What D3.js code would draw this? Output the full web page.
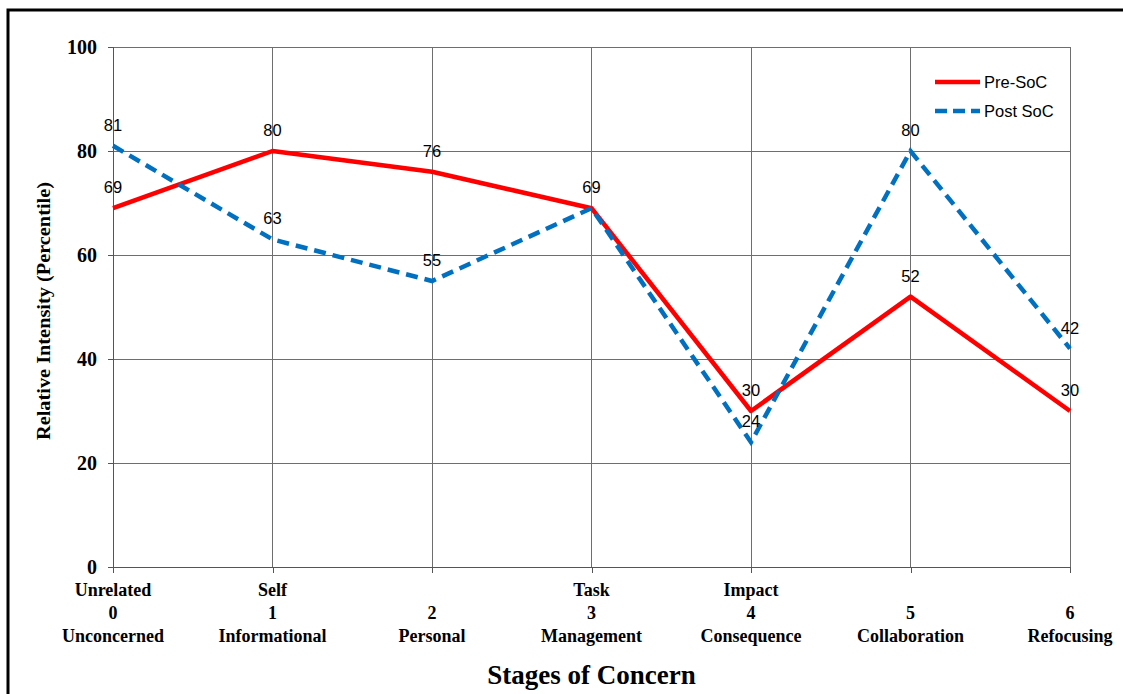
<!DOCTYPE html>
<html>
<head>
<meta charset="utf-8">
<script src="https://cdn.jsdelivr.net/npm/d3@7"></script>
<style>
  html, body { margin: 0; padding: 0; background: #fff; }
  svg { display: block; }
</style>
</head>
<body>
<svg id="chart" width="1123" height="694"></svg>
<script>
const stages = [0, 1, 2, 3, 4, 5, 6];
const stageTop = ["Unrelated", "Self", "", "Task", "Impact", "", ""];
const stageBottom = ["Unconcerned", "Informational", "Personal", "Management", "Consequence", "Collaboration", "Refocusing"];
const preSoC = [69, 80, 76, 69, 30, 52, 30];
const postSoC = [81, 63, 55, 69, 24, 80, 42];
const yTicks = [0, 20, 40, 60, 80, 100];

const svg = d3.select("#chart");
const W = 1123, H = 694;
const m = { left: 113, right: 1070, top: 47, bottom: 567 };

svg.append("rect").attr("x", 0).attr("y", 0).attr("width", W).attr("height", H).attr("fill", "#fff");
// outer frame
svg.append("rect").attr("x", 8).attr("y", 10).attr("width", W + 20).attr("height", H + 20)
  .attr("fill", "none").attr("stroke", "#000").attr("stroke-width", 3);

const x = d3.scaleLinear().domain([0, 6]).range([m.left, m.right]);
const y = d3.scaleLinear().domain([0, 100]).range([m.bottom, m.top]);

const serif = "'Liberation Serif','Times New Roman',serif";
const sans = "'Liberation Sans',Arial,sans-serif";

// gridlines
svg.append("g").selectAll("line").data(yTicks.filter(d => d > 0)).join("line")
  .attr("x1", m.left).attr("x2", m.right)
  .attr("y1", d => y(d)).attr("y2", d => y(d))
  .attr("stroke", "#6e6e6e").attr("stroke-width", 1).attr("shape-rendering", "crispEdges");
svg.append("g").selectAll("line").data(stages.filter(d => d > 0)).join("line")
  .attr("x1", d => x(d)).attr("x2", d => x(d))
  .attr("y1", m.top).attr("y2", m.bottom)
  .attr("stroke", "#6e6e6e").attr("stroke-width", 1).attr("shape-rendering", "crispEdges");

// y axis
const yAxis = d3.axisLeft(y).tickValues(yTicks).tickSize(5).tickPadding(11);
const gy = svg.append("g").attr("transform", `translate(${m.left},0)`).call(yAxis);
gy.select(".domain").attr("stroke", "#555").attr("shape-rendering", "crispEdges");
gy.selectAll(".tick line").attr("stroke", "#555").attr("shape-rendering", "crispEdges");
gy.selectAll(".tick text").attr("font-family", serif).attr("font-weight", "bold")
  .attr("font-size", 20).attr("fill", "#000");

// x axis
const xAxis = d3.axisBottom(x).tickValues(stages).tickSize(6).tickFormat("");
const gx = svg.append("g").attr("transform", `translate(0,${m.bottom})`).call(xAxis);
gx.select(".domain").attr("stroke", "#555").attr("shape-rendering", "crispEdges");
gx.selectAll(".tick line").attr("stroke", "#555").attr("shape-rendering", "crispEdges");

const xl = svg.append("g").attr("font-family", serif).attr("font-weight", "bold")
  .attr("font-size", 18).attr("fill", "#000").attr("text-anchor", "middle");
stages.forEach((s, i) => {
  xl.append("text").attr("x", x(s)).attr("y", 596).text(stageTop[i]);
  xl.append("text").attr("x", x(s)).attr("y", 619).text(String(s));
  xl.append("text").attr("x", x(s)).attr("y", 642).text(stageBottom[i]);
});

// axis titles
svg.append("text").attr("x", (m.left + m.right) / 2).attr("y", 684)
  .attr("text-anchor", "middle").attr("font-family", serif).attr("font-weight", "bold")
  .attr("font-size", 27).text("Stages of Concern");
svg.append("text").attr("transform", `translate(50,${(m.top + m.bottom) / 2 + 4}) rotate(-90)`)
  .attr("text-anchor", "middle").attr("font-family", serif).attr("font-weight", "bold")
  .attr("font-size", 19).attr("textLength", 258).attr("lengthAdjust", "spacingAndGlyphs")
  .text("Relative Intensity (Percentile)");

// lines
const line = d3.line().x((d, i) => x(stages[i])).y(d => y(d));
svg.append("path").datum(preSoC).attr("d", line).attr("fill", "none")
  .attr("stroke", "#ff0000").attr("stroke-width", 4.5).attr("stroke-linejoin", "round");
svg.append("path").datum(postSoC).attr("d", line).attr("fill", "none")
  .attr("stroke", "#0070c0").attr("stroke-width", 4.5).attr("stroke-dasharray", "12,7");

// data labels
const lbl = svg.append("g").attr("font-family", sans).attr("font-size", 16.5)
  .attr("fill", "#000").attr("text-anchor", "middle");
preSoC.forEach((v, i) => {
  lbl.append("text").attr("x", x(stages[i])).attr("y", y(v) - 15).text(v);
});
postSoC.forEach((v, i) => {
  if (v === preSoC[i]) return; // identical label would overprint
  lbl.append("text").attr("x", x(stages[i])).attr("y", y(v) - 15).text(v);
});

// legend
const lg = svg.append("g");
lg.append("line").attr("x1", 935).attr("x2", 980).attr("y1", 82).attr("y2", 82)
  .attr("stroke", "#ff0000").attr("stroke-width", 4.5);
lg.append("text").attr("x", 984).attr("y", 88).attr("font-family", sans).attr("font-size", 16.5).text("Pre-SoC");
lg.append("line").attr("x1", 935).attr("x2", 980).attr("y1", 111).attr("y2", 111)
  .attr("stroke", "#0070c0").attr("stroke-width", 4.5).attr("stroke-dasharray", "12,6");
lg.append("text").attr("x", 984).attr("y", 117).attr("font-family", sans).attr("font-size", 16.5).text("Post SoC");
</script>
</body>
</html>
